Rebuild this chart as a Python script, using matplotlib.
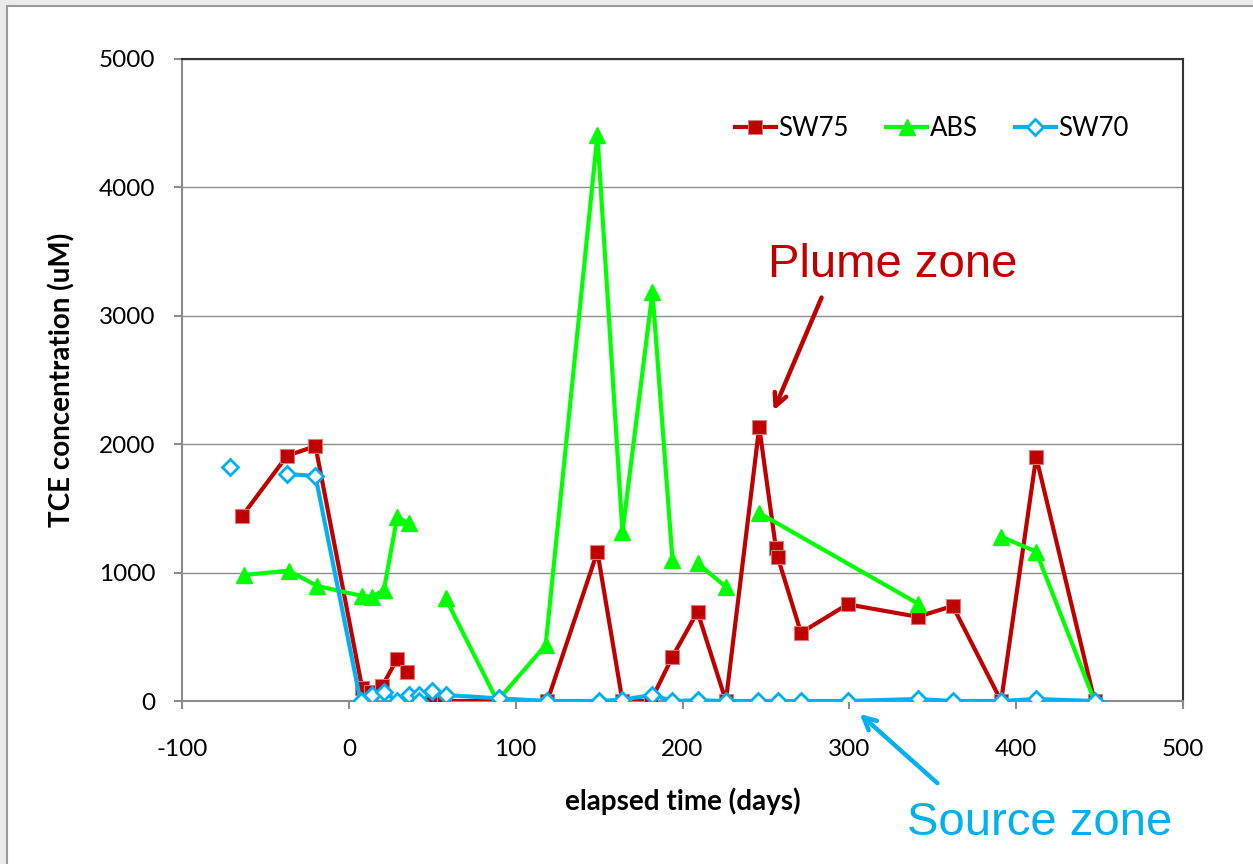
import matplotlib.pyplot as plt
import numpy as np
from matplotlib.patches import Rectangle

nan = np.nan

# SW75 (plume zone well)
sw75_t = [-64, -37, -20, 8, 13, 20, 29, 35, 42, 50, 57, 119, 149, 164, 181, 194, 209, 226, 246, 256, 257, 271, 299, 341, 362, 391, 412, 447]
sw75_c = [1440, 1910, 1985, 100, 70, 117, 327, 226, nan, 0, 0, 0, 1163, 0, 0, 345, 695, 0, 2134, 1189, 1124, 532, 753, 656, 740, 0, 1900, 0]

# ABS
abs_t = [-63, -36, -19, 8, 14, 21, 29, 36, 45, 58, 89, 118, 149, 164, 182, 194, 200, 209, 226, 235, 246, 341, 370, 391, 412, 447]
abs_c = [981, 1015, 896, 818, 812, 864, 1435, 1383, nan, 799, 0, 436, 4408, 1316, 3185, 1098, nan, 1072, 890, nan, 1464, 759, nan, 1280, 1163, 0]

# SW70 (source zone well)
sw70_t = [-71, -50, -37, -20, 7, 14, 21, 29, 36, 42, 42, 50, 58, 90, 119, 150, 164, 182, 194, 209, 226, 245, 257, 271, 299, 341, 362, 391, 412, 447]
sw70_c = [1822, nan, 1768, 1752, 0, 47, 72, 0, 47, 47, 0, 80, 47, 20, 0, 0, 10, 47, 0, 5, 0, 0, 0, 0, 0, 15, 0, 0, 15, 0]

red = '#C00000'
green = '#00FF00'
blue = '#00B0F0'

plt.rcParams['font.family'] = ['Lato', 'DejaVu Sans']
plt.rcParams['axes.unicode_minus'] = False

fig = plt.figure(figsize=(12.53, 8.64), dpi=100, facecolor='#ebebeb')
fig.patches.append(Rectangle((7 / 1253, -0.01), 1.01, 1 - 6 / 864 + 0.01, transform=fig.transFigure,
                             facecolor='white', edgecolor='#9a9a9a', linewidth=1.5, zorder=-10))

ax = fig.add_axes([182 / 1253, 1 - 701 / 864, 1001 / 1253, 642 / 864])
ax.set_facecolor('white')

ax.plot(sw75_t, sw75_c, color=red, lw=3, marker='s', markersize=10.5,
        markerfacecolor=red, markeredgecolor='#d97b7b', markeredgewidth=0.8, label='SW75', zorder=3)
ax.plot(abs_t, abs_c, color=green, lw=3, marker='^', markersize=11.5,
        markerfacecolor=green, markeredgecolor=green, label='ABS', zorder=4)
ax.plot(sw70_t, sw70_c, color=blue, lw=3, marker='D', markersize=8.5,
        markerfacecolor='white', markeredgecolor=blue, markeredgewidth=2, label='SW70', zorder=5)

ax.set_xlim(-100, 500)
ax.set_ylim(0, 5000)
ax.set_xticks(range(-100, 501, 100))
ax.set_yticks(range(0, 5001, 1000))
ax.yaxis.grid(True, color='#8c8c8c', lw=1)
ax.set_axisbelow(True)

for s in ['left', 'bottom']:
    ax.spines[s].set_color('#8c8c8c')
    ax.spines[s].set_linewidth(1.5)
for s in ['top', 'right']:
    ax.spines[s].set_color('#333333')
    ax.spines[s].set_linewidth(1.5)

ax.tick_params(axis='both', direction='out', length=6, width=1.5, color='#8c8c8c',
               labelsize=17.5, labelcolor='black')
ax.tick_params(axis='x', pad=21)
ax.tick_params(axis='y', pad=13)

ax.set_xlabel('elapsed time (days)', fontsize=20, fontweight='bold', labelpad=20)
ax.set_ylabel('TCE concentration (uM)', fontsize=20, fontweight='bold', labelpad=17)

ax.legend(loc='center left', bbox_to_anchor=(0.552, 0.8925), ncol=3, frameon=False,
          fontsize=18.5, handlelength=1.6, handletextpad=0.1, columnspacing=1.45,
          borderpad=0, borderaxespad=0)

ax.text(251, 3302, 'Plume zone', color=red, fontsize=34, family='Liberation Sans',
        ha='left', va='baseline')
ax.annotate('', xy=(254, 2243), xytext=(284, 3162),
            arrowprops=dict(arrowstyle='->,head_length=0.9,head_width=0.45', color=red, lw=3.2))

ax.text(334.5, -1044, 'Source zone', color=blue, fontsize=34, family='Liberation Sans',
        ha='left', va='baseline', clip_on=False)
ax.annotate('', xy=(305, -86), xytext=(354, -654), annotation_clip=False,
            arrowprops=dict(arrowstyle='->,head_length=0.9,head_width=0.45', color=blue, lw=3.2))

fig.savefig('out.png', dpi=100, facecolor=fig.get_facecolor())
